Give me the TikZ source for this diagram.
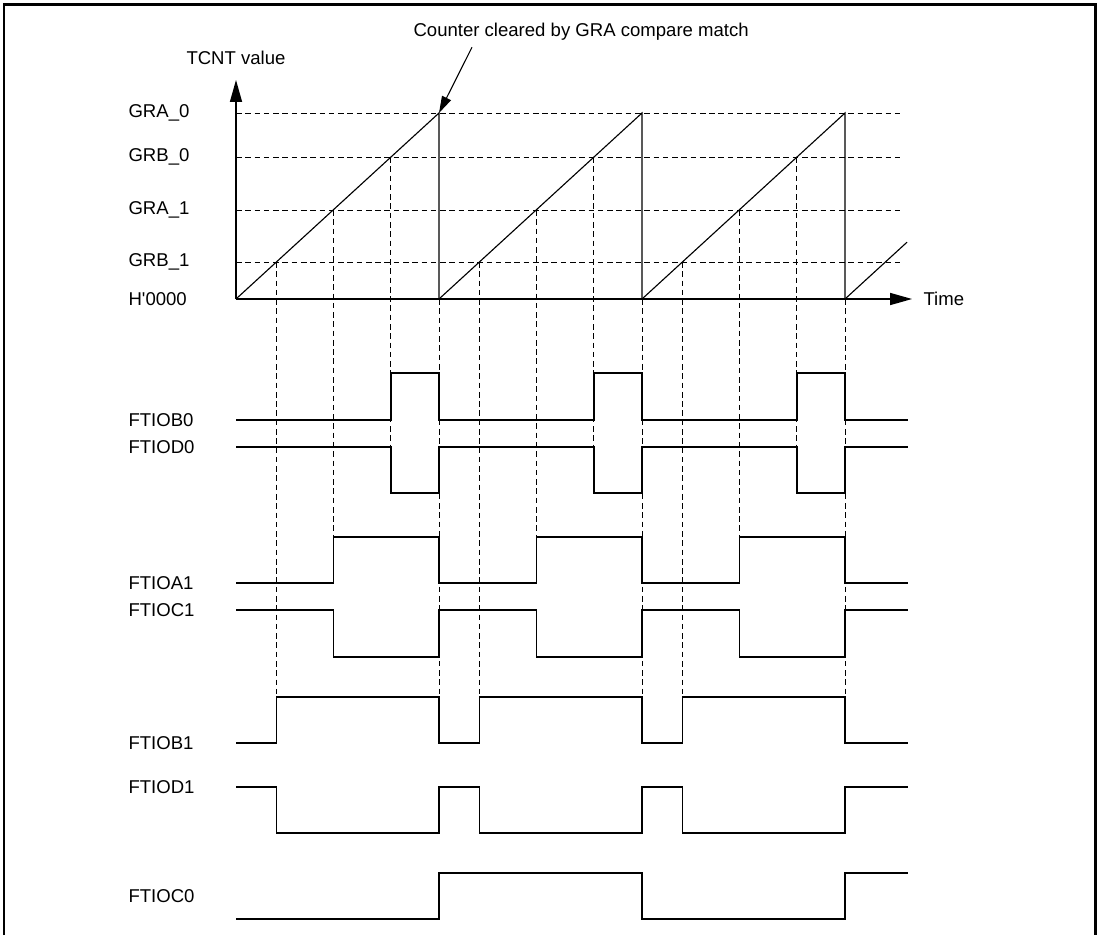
\documentclass[tikz,border=0pt]{standalone}
\usepackage{fontspec}
\setmainfont{Liberation Sans}
\usetikzlibrary{arrows.meta, positioning, calc}
\tikzset{
  every picture/.style={font=\fontsize{13.2pt}{15pt}\selectfont, line width=0.8pt},
  lbl/.style={inner sep=0pt, anchor=west},
  axis/.style={line width=1pt, -{Triangle[length=15.5pt, width=8.5pt]}},
  pointer/.style={line width=0.75pt, -{Triangle[length=12pt, width=7pt]}},
  guide/.style={dash pattern=on 4pt off 2.6pt, line width=0.7pt},
  ramp/.style={line width=0.8pt},
  wave/.style={line width=0.9pt},
  frame/.style={line width=1.8pt},
}

\begin{document}
\begin{tikzpicture}
  \def\P{5.075}    % one counter period
  \def\hmax{4.65}  % GRA_0 level
  \pgfmathsetmacro\xbo{3.55*\P/\hmax}
  \pgfmathsetmacro\xai{2.225*\P/\hmax}
  \pgfmathsetmacro\xbi{0.925*\P/\hmax}
  \useasboundingbox (-5.9,-15.9) rectangle (21.65,7.475);
  \draw[frame] (-5.8,-15.9) -- (-5.8,7.36) -- (21.49,7.36) -- (21.49,-15.9);
  % axes
  \coordinate (O) at (0,0);
  \coordinate (ytip) at (0,5.475);
  \coordinate (xtip) at (16.9,0);
  \draw[axis] (O) -- (ytip);
  \draw[axis] (O) -- (xtip);
  \node[lbl, above=0.375cm of ytip] (tcnt) {TCNT value};
  \node[lbl, right=0.275cm of xtip] (time) {Time};
  \node[lbl] (h0) at (-2.7,0) {H\textquotesingle 0000};
  % compare levels
  \foreach \nm/\txt/\lv in {gra0/GRA\_0/4.65, grb0/GRB\_0/3.55, gra1/GRA\_1/2.225, grb1/GRB\_1/0.925} {
    \node[lbl] (\nm) at (-2.7,\lv) {\txt};
    \draw[guide] (0,\lv) -- (16.675,\lv);
  }
  % counter ramps
  \foreach \k in {0,1,2} {
    \draw[ramp] ({\k*\P},0) -- ({(\k+1)*\P},\hmax) -- ({(\k+1)*\P},0);
  }
  \draw[ramp] ({3*\P},0) -- (16.775,1.42);
  \coordinate (peak) at (\P,\hmax);
  \node[lbl] (note) at (4.425,6.675) {Counter cleared by GRA compare match};
  \draw[pointer] ([xshift=1.475cm, yshift=-0.15cm]note.south west) -- (peak);
  % compare match markers
  \foreach \k in {0,1,2} {
    \foreach \x/\lv/\stop in {\xbi/0.925/-9.95, \xai/2.225/-5.95, \xbo/3.55/-3.7} {
      \draw[guide] ({\k*\P+\x},\lv) -- ({\k*\P+\x},\stop);
    }
  }
  \foreach \k in {1,2,3} {
    \draw[guide] ({\k*\P},0) -- ({\k*\P},-9.95);
  }
  % output waveforms
  \foreach \name/\base/\act/\x in {FTIOB0/-3.025/-1.85/\xbo, FTIOD0/-3.7/-4.85/\xbo,
      FTIOA1/-7.1/-5.95/\xai, FTIOC1/-7.775/-8.95/\xai,
      FTIOB1/-11.1/-9.95/\xbi, FTIOD1/-12.2/-13.35/\xbi} {
    \node[lbl] (\name) at (-2.7,\base) {\name};
    \draw[wave] (0,\base) foreach \k in {0,1,2} { -- ({\k*\P+\x},\base) -- ({\k*\P+\x},\act)
      -- ({(\k+1)*\P},\act) -- ({(\k+1)*\P},\base) } -- (16.8,\base);
  }
  \node[lbl] (FTIOC0) at (-2.7,-14.925) {FTIOC0};
  \draw[wave] (0,-15.5) -- (\P,-15.5) -- (\P,-14.35) -- ({2*\P},-14.35) -- ({2*\P},-15.5)
    -- ({3*\P},-15.5) -- ({3*\P},-14.35) -- (16.8,-14.35);
\end{tikzpicture}
\end{document}
